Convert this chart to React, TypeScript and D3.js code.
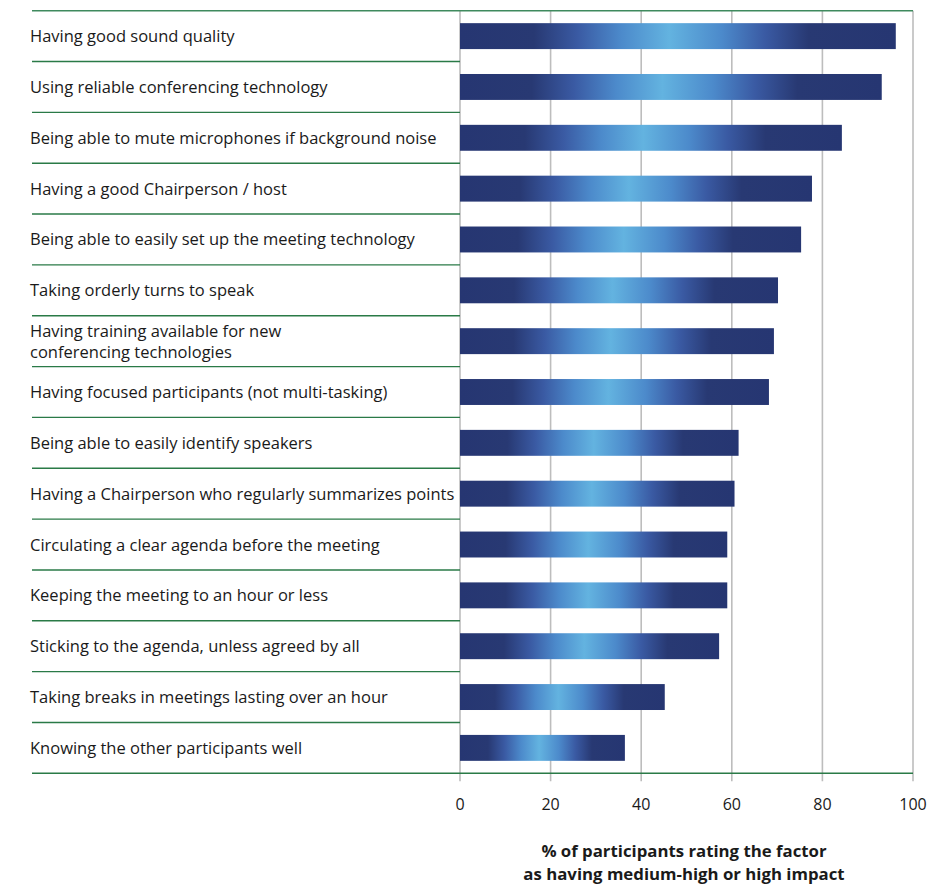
import React from 'react';
import * as d3 from 'd3';

const factors = [
  'Having good sound quality',
  'Using reliable conferencing technology',
  'Being able to mute microphones if background noise',
  'Having a good Chairperson / host',
  'Being able to easily set up the meeting technology',
  'Taking orderly turns to speak',
  'Having training available for new\nconferencing technologies',
  'Having focused participants (not multi-tasking)',
  'Being able to easily identify speakers',
  'Having a Chairperson who regularly summarizes points',
  'Circulating a clear agenda before the meeting',
  'Keeping the meeting to an hour or less',
  'Sticking to the agenda, unless agreed by all',
  'Taking breaks in meetings lasting over an hour',
  'Knowing the other participants well',
];

const percentages = [96.2, 93.1, 84.3, 77.7, 75.3, 70.2, 69.3, 68.2, 61.5, 60.6, 59, 59, 57.2, 45.2, 36.4];

const xTicks = [0, 20, 40, 60, 80, 100];

const axisTitle = ['% of participants rating the factor', 'as having medium-high or high impact'];

const W = 928;
const H = 885;
const FONT = "'Open Sans', 'Noto Sans', sans-serif";

export default function App() {
  const x = d3.scaleLinear().domain([0, 100]).range([460, 913]);
  const y = d3.scaleBand().domain(factors).range([10.7, 773.3]).padding(0);
  const bw = y.bandwidth();
  const barH = bw * 0.51;
  const top = y.range()[0];
  const bottom = y.range()[1];

  return (
    <svg
      width={W}
      height={H}
      style={{ position: 'absolute', left: 0, top: 0, background: '#fff' }}
      fontFamily={FONT}
    >
      <defs>
        <linearGradient id="barGrad" x1="0" x2="1" y1="0" y2="0">
          <stop offset="0" stopColor="#263672" />
          <stop offset="0.17" stopColor="#283973" />
          <stop offset="0.27" stopColor="#3a5aa3" />
          <stop offset="0.37" stopColor="#4c8acb" />
          <stop offset="0.48" stopColor="#63b3e0" />
          <stop offset="0.6" stopColor="#4c8acb" />
          <stop offset="0.7" stopColor="#3a5aa3" />
          <stop offset="0.8" stopColor="#283973" />
          <stop offset="1" stopColor="#263672" />
        </linearGradient>
      </defs>

      {/* vertical gridlines */}
      {xTicks.map((t) => (
        <line
          key={'g' + t}
          x1={x(t)}
          x2={x(t)}
          y1={top}
          y2={bottom + 8}
          stroke="#bdbdbd"
          strokeWidth={1.6}
        />
      ))}

      {/* row separators */}
      {factors.map((f, i) => (
        <line
          key={'s' + i}
          x1={32}
          x2={i === 0 ? x(100) : x(0)}
          y1={y(f)}
          y2={y(f)}
          stroke={i === 0 ? '#3f8a5e' : '#2a7a47'}
          strokeWidth={1.4}
        />
      ))}
      <line x1={32} x2={x(100)} y1={bottom} y2={bottom} stroke="#2a7a47" strokeWidth={1.4} />

      {/* bars */}
      {factors.map((f, i) => {
        const by = (y(f) as number) + (bw - barH) / 2;
        return (
          <rect
            key={'b' + i}
            x={x(0)}
            y={by}
            width={x(percentages[i]) - x(0)}
            height={barH}
            fill="url(#barGrad)"
          />
        );
      })}

      {/* category labels */}
      {factors.map((f, i) => {
        const lines = f.split('\n');
        const cy = (y(f) as number) + bw / 2;
        const lh = 21;
        return (
          <text key={'l' + i} x={30} fontSize={16.5} fill="#1a1a1a">
            {lines.map((ln, j) => (
              <tspan key={j} x={30} y={cy + 6 + (j - (lines.length - 1) / 2) * lh}>
                {ln}
              </tspan>
            ))}
          </text>
        );
      })}

      {/* tick labels */}
      {xTicks.map((t) => (
        <text key={'t' + t} x={x(t)} y={810} textAnchor="middle" fontSize={16} fill="#1a1a1a">
          {t}
        </text>
      ))}

      {/* axis title */}
      {axisTitle.map((ln, j) => (
        <text
          key={'a' + j}
          x={684}
          y={857 + j * 23}
          textAnchor="middle"
          fontSize={16.8}
          fontWeight="bold"
          fill="#1a1a1a"
        >
          {ln}
        </text>
      ))}
    </svg>
  );
}
